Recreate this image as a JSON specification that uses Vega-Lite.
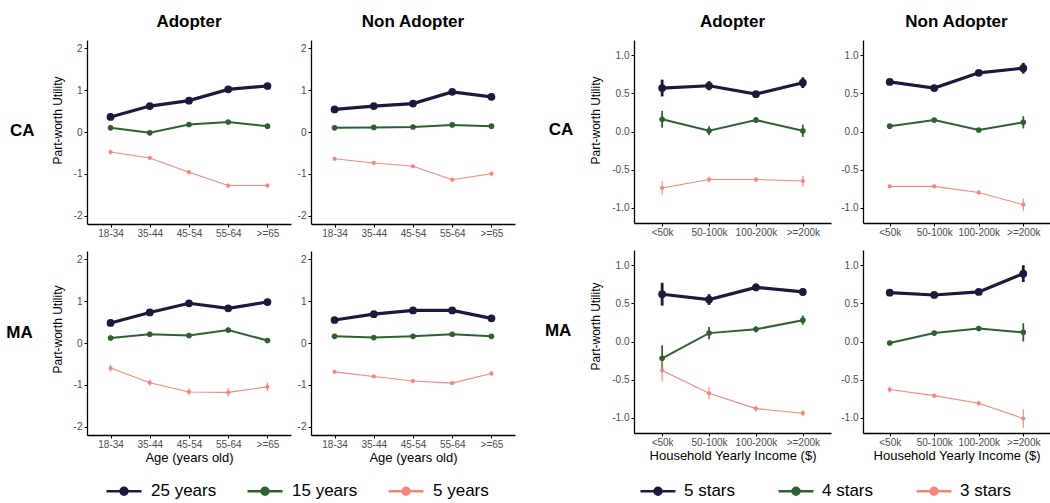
{
  "$schema": "https://vega.github.io/schema/vega-lite/v6.json",
  "padding": {"left": 6, "top": 13, "right": 0, "bottom": 0},
  "datasets": {
    "age": [
      {"state":"CA","group":"Adopter","level":"25 years","age":"18-34","u":0.36,"lo":0.31,"hi":0.41},
      {"state":"CA","group":"Adopter","level":"25 years","age":"35-44","u":0.62,"lo":0.57,"hi":0.67},
      {"state":"CA","group":"Adopter","level":"25 years","age":"45-54","u":0.75,"lo":0.70,"hi":0.80},
      {"state":"CA","group":"Adopter","level":"25 years","age":"55-64","u":1.02,"lo":0.97,"hi":1.07},
      {"state":"CA","group":"Adopter","level":"25 years","age":">=65","u":1.10,"lo":1.05,"hi":1.15},
      {"state":"CA","group":"Adopter","level":"15 years","age":"18-34","u":0.10,"lo":0.06,"hi":0.14},
      {"state":"CA","group":"Adopter","level":"15 years","age":"35-44","u":-0.02,"lo":-0.06,"hi":0.02},
      {"state":"CA","group":"Adopter","level":"15 years","age":"45-54","u":0.18,"lo":0.14,"hi":0.22},
      {"state":"CA","group":"Adopter","level":"15 years","age":"55-64","u":0.24,"lo":0.20,"hi":0.28},
      {"state":"CA","group":"Adopter","level":"15 years","age":">=65","u":0.14,"lo":0.10,"hi":0.18},
      {"state":"CA","group":"Adopter","level":"5 years","age":"18-34","u":-0.48,"lo":-0.53,"hi":-0.43},
      {"state":"CA","group":"Adopter","level":"5 years","age":"35-44","u":-0.62,"lo":-0.67,"hi":-0.57},
      {"state":"CA","group":"Adopter","level":"5 years","age":"45-54","u":-0.96,"lo":-1.01,"hi":-0.91},
      {"state":"CA","group":"Adopter","level":"5 years","age":"55-64","u":-1.28,"lo":-1.33,"hi":-1.23},
      {"state":"CA","group":"Adopter","level":"5 years","age":">=65","u":-1.28,"lo":-1.33,"hi":-1.23},
      {"state":"CA","group":"Non Adopter","level":"25 years","age":"18-34","u":0.54,"lo":0.50,"hi":0.58},
      {"state":"CA","group":"Non Adopter","level":"25 years","age":"35-44","u":0.62,"lo":0.58,"hi":0.66},
      {"state":"CA","group":"Non Adopter","level":"25 years","age":"45-54","u":0.68,"lo":0.64,"hi":0.72},
      {"state":"CA","group":"Non Adopter","level":"25 years","age":"55-64","u":0.96,"lo":0.92,"hi":1.00},
      {"state":"CA","group":"Non Adopter","level":"25 years","age":">=65","u":0.84,"lo":0.80,"hi":0.88},
      {"state":"CA","group":"Non Adopter","level":"15 years","age":"18-34","u":0.10,"lo":0.07,"hi":0.13},
      {"state":"CA","group":"Non Adopter","level":"15 years","age":"35-44","u":0.11,"lo":0.08,"hi":0.14},
      {"state":"CA","group":"Non Adopter","level":"15 years","age":"45-54","u":0.12,"lo":0.09,"hi":0.15},
      {"state":"CA","group":"Non Adopter","level":"15 years","age":"55-64","u":0.17,"lo":0.14,"hi":0.20},
      {"state":"CA","group":"Non Adopter","level":"15 years","age":">=65","u":0.14,"lo":0.11,"hi":0.17},
      {"state":"CA","group":"Non Adopter","level":"5 years","age":"18-34","u":-0.64,"lo":-0.67,"hi":-0.61},
      {"state":"CA","group":"Non Adopter","level":"5 years","age":"35-44","u":-0.74,"lo":-0.77,"hi":-0.71},
      {"state":"CA","group":"Non Adopter","level":"5 years","age":"45-54","u":-0.82,"lo":-0.85,"hi":-0.79},
      {"state":"CA","group":"Non Adopter","level":"5 years","age":"55-64","u":-1.14,"lo":-1.18,"hi":-1.10},
      {"state":"CA","group":"Non Adopter","level":"5 years","age":">=65","u":-1.00,"lo":-1.06,"hi":-0.94},
      {"state":"MA","group":"Adopter","level":"25 years","age":"18-34","u":0.48,"lo":0.42,"hi":0.54},
      {"state":"MA","group":"Adopter","level":"25 years","age":"35-44","u":0.73,"lo":0.67,"hi":0.79},
      {"state":"MA","group":"Adopter","level":"25 years","age":"45-54","u":0.95,"lo":0.89,"hi":1.01},
      {"state":"MA","group":"Adopter","level":"25 years","age":"55-64","u":0.83,"lo":0.77,"hi":0.89},
      {"state":"MA","group":"Adopter","level":"25 years","age":">=65","u":0.98,"lo":0.92,"hi":1.04},
      {"state":"MA","group":"Adopter","level":"15 years","age":"18-34","u":0.12,"lo":0.06,"hi":0.18},
      {"state":"MA","group":"Adopter","level":"15 years","age":"35-44","u":0.21,"lo":0.15,"hi":0.27},
      {"state":"MA","group":"Adopter","level":"15 years","age":"45-54","u":0.18,"lo":0.12,"hi":0.24},
      {"state":"MA","group":"Adopter","level":"15 years","age":"55-64","u":0.31,"lo":0.25,"hi":0.37},
      {"state":"MA","group":"Adopter","level":"15 years","age":">=65","u":0.06,"lo":0.00,"hi":0.12},
      {"state":"MA","group":"Adopter","level":"5 years","age":"18-34","u":-0.60,"lo":-0.68,"hi":-0.52},
      {"state":"MA","group":"Adopter","level":"5 years","age":"35-44","u":-0.95,"lo":-1.02,"hi":-0.88},
      {"state":"MA","group":"Adopter","level":"5 years","age":"45-54","u":-1.17,"lo":-1.25,"hi":-1.09},
      {"state":"MA","group":"Adopter","level":"5 years","age":"55-64","u":-1.18,"lo":-1.28,"hi":-1.08},
      {"state":"MA","group":"Adopter","level":"5 years","age":">=65","u":-1.05,"lo":-1.15,"hi":-0.95},
      {"state":"MA","group":"Non Adopter","level":"25 years","age":"18-34","u":0.55,"lo":0.51,"hi":0.59},
      {"state":"MA","group":"Non Adopter","level":"25 years","age":"35-44","u":0.69,"lo":0.65,"hi":0.73},
      {"state":"MA","group":"Non Adopter","level":"25 years","age":"45-54","u":0.78,"lo":0.74,"hi":0.82},
      {"state":"MA","group":"Non Adopter","level":"25 years","age":"55-64","u":0.78,"lo":0.74,"hi":0.82},
      {"state":"MA","group":"Non Adopter","level":"25 years","age":">=65","u":0.59,"lo":0.55,"hi":0.63},
      {"state":"MA","group":"Non Adopter","level":"15 years","age":"18-34","u":0.16,"lo":0.13,"hi":0.19},
      {"state":"MA","group":"Non Adopter","level":"15 years","age":"35-44","u":0.13,"lo":0.10,"hi":0.16},
      {"state":"MA","group":"Non Adopter","level":"15 years","age":"45-54","u":0.16,"lo":0.13,"hi":0.19},
      {"state":"MA","group":"Non Adopter","level":"15 years","age":"55-64","u":0.21,"lo":0.18,"hi":0.24},
      {"state":"MA","group":"Non Adopter","level":"15 years","age":">=65","u":0.16,"lo":0.13,"hi":0.19},
      {"state":"MA","group":"Non Adopter","level":"5 years","age":"18-34","u":-0.69,"lo":-0.72,"hi":-0.66},
      {"state":"MA","group":"Non Adopter","level":"5 years","age":"35-44","u":-0.80,"lo":-0.83,"hi":-0.77},
      {"state":"MA","group":"Non Adopter","level":"5 years","age":"45-54","u":-0.91,"lo":-0.95,"hi":-0.87},
      {"state":"MA","group":"Non Adopter","level":"5 years","age":"55-64","u":-0.96,"lo":-1.00,"hi":-0.92},
      {"state":"MA","group":"Non Adopter","level":"5 years","age":">=65","u":-0.73,"lo":-0.79,"hi":-0.67}
    ],
    "income": [
      {"state":"CA","group":"Adopter","level":"5 stars","income":"<50k","u":0.57,"lo":0.46,"hi":0.68},
      {"state":"CA","group":"Adopter","level":"5 stars","income":"50-100k","u":0.60,"lo":0.54,"hi":0.66},
      {"state":"CA","group":"Adopter","level":"5 stars","income":"100-200k","u":0.49,"lo":0.45,"hi":0.53},
      {"state":"CA","group":"Adopter","level":"5 stars","income":">=200k","u":0.64,"lo":0.57,"hi":0.71},
      {"state":"CA","group":"Adopter","level":"4 stars","income":"<50k","u":0.16,"lo":0.05,"hi":0.27},
      {"state":"CA","group":"Adopter","level":"4 stars","income":"50-100k","u":0.01,"lo":-0.05,"hi":0.07},
      {"state":"CA","group":"Adopter","level":"4 stars","income":"100-200k","u":0.15,"lo":0.11,"hi":0.19},
      {"state":"CA","group":"Adopter","level":"4 stars","income":">=200k","u":0.01,"lo":-0.07,"hi":0.09},
      {"state":"CA","group":"Adopter","level":"3 stars","income":"<50k","u":-0.74,"lo":-0.83,"hi":-0.65},
      {"state":"CA","group":"Adopter","level":"3 stars","income":"50-100k","u":-0.63,"lo":-0.67,"hi":-0.59},
      {"state":"CA","group":"Adopter","level":"3 stars","income":"100-200k","u":-0.63,"lo":-0.66,"hi":-0.60},
      {"state":"CA","group":"Adopter","level":"3 stars","income":">=200k","u":-0.65,"lo":-0.72,"hi":-0.58},
      {"state":"CA","group":"Non Adopter","level":"5 stars","income":"<50k","u":0.65,"lo":0.62,"hi":0.68},
      {"state":"CA","group":"Non Adopter","level":"5 stars","income":"50-100k","u":0.57,"lo":0.54,"hi":0.60},
      {"state":"CA","group":"Non Adopter","level":"5 stars","income":"100-200k","u":0.77,"lo":0.74,"hi":0.80},
      {"state":"CA","group":"Non Adopter","level":"5 stars","income":">=200k","u":0.83,"lo":0.76,"hi":0.90},
      {"state":"CA","group":"Non Adopter","level":"4 stars","income":"<50k","u":0.07,"lo":0.05,"hi":0.09},
      {"state":"CA","group":"Non Adopter","level":"4 stars","income":"50-100k","u":0.15,"lo":0.13,"hi":0.17},
      {"state":"CA","group":"Non Adopter","level":"4 stars","income":"100-200k","u":0.02,"lo":0.00,"hi":0.04},
      {"state":"CA","group":"Non Adopter","level":"4 stars","income":">=200k","u":0.12,"lo":0.04,"hi":0.20},
      {"state":"CA","group":"Non Adopter","level":"3 stars","income":"<50k","u":-0.72,"lo":-0.74,"hi":-0.70},
      {"state":"CA","group":"Non Adopter","level":"3 stars","income":"50-100k","u":-0.72,"lo":-0.74,"hi":-0.70},
      {"state":"CA","group":"Non Adopter","level":"3 stars","income":"100-200k","u":-0.80,"lo":-0.83,"hi":-0.77},
      {"state":"CA","group":"Non Adopter","level":"3 stars","income":">=200k","u":-0.96,"lo":-1.04,"hi":-0.88},
      {"state":"MA","group":"Adopter","level":"5 stars","income":"<50k","u":0.62,"lo":0.47,"hi":0.77},
      {"state":"MA","group":"Adopter","level":"5 stars","income":"50-100k","u":0.55,"lo":0.48,"hi":0.62},
      {"state":"MA","group":"Adopter","level":"5 stars","income":"100-200k","u":0.71,"lo":0.66,"hi":0.76},
      {"state":"MA","group":"Adopter","level":"5 stars","income":">=200k","u":0.65,"lo":0.60,"hi":0.70},
      {"state":"MA","group":"Adopter","level":"4 stars","income":"<50k","u":-0.22,"lo":-0.39,"hi":-0.05},
      {"state":"MA","group":"Adopter","level":"4 stars","income":"50-100k","u":0.11,"lo":0.03,"hi":0.19},
      {"state":"MA","group":"Adopter","level":"4 stars","income":"100-200k","u":0.16,"lo":0.12,"hi":0.20},
      {"state":"MA","group":"Adopter","level":"4 stars","income":">=200k","u":0.28,"lo":0.22,"hi":0.34},
      {"state":"MA","group":"Adopter","level":"3 stars","income":"<50k","u":-0.38,"lo":-0.52,"hi":-0.24},
      {"state":"MA","group":"Adopter","level":"3 stars","income":"50-100k","u":-0.68,"lo":-0.76,"hi":-0.60},
      {"state":"MA","group":"Adopter","level":"3 stars","income":"100-200k","u":-0.88,"lo":-0.92,"hi":-0.84},
      {"state":"MA","group":"Adopter","level":"3 stars","income":">=200k","u":-0.94,"lo":-0.98,"hi":-0.90},
      {"state":"MA","group":"Non Adopter","level":"5 stars","income":"<50k","u":0.64,"lo":0.60,"hi":0.68},
      {"state":"MA","group":"Non Adopter","level":"5 stars","income":"50-100k","u":0.61,"lo":0.58,"hi":0.64},
      {"state":"MA","group":"Non Adopter","level":"5 stars","income":"100-200k","u":0.65,"lo":0.62,"hi":0.68},
      {"state":"MA","group":"Non Adopter","level":"5 stars","income":">=200k","u":0.89,"lo":0.78,"hi":1.00},
      {"state":"MA","group":"Non Adopter","level":"4 stars","income":"<50k","u":-0.02,"lo":-0.05,"hi":0.01},
      {"state":"MA","group":"Non Adopter","level":"4 stars","income":"50-100k","u":0.11,"lo":0.08,"hi":0.14},
      {"state":"MA","group":"Non Adopter","level":"4 stars","income":"100-200k","u":0.17,"lo":0.14,"hi":0.20},
      {"state":"MA","group":"Non Adopter","level":"4 stars","income":">=200k","u":0.12,"lo":0.00,"hi":0.24},
      {"state":"MA","group":"Non Adopter","level":"3 stars","income":"<50k","u":-0.63,"lo":-0.67,"hi":-0.59},
      {"state":"MA","group":"Non Adopter","level":"3 stars","income":"50-100k","u":-0.71,"lo":-0.74,"hi":-0.68},
      {"state":"MA","group":"Non Adopter","level":"3 stars","income":"100-200k","u":-0.81,"lo":-0.84,"hi":-0.78},
      {"state":"MA","group":"Non Adopter","level":"3 stars","income":">=200k","u":-1.01,"lo":-1.13,"hi":-0.89}
    ]
  },
  "hconcat": [
    {
      "spacing": 13,
      "vconcat": [
        {
          "title": {"text": "CA", "orient": "left", "angle": 0, "align": "right", "baseline": "middle", "offset": -8, "dy": -107},
          "spacing": 6,
          "hconcat": [
            {
              "data": {"name": "age"},
              "width": 204, "height": 184,
              "title": "Adopter",
              "transform": [{"filter": "datum.state === 'CA' && datum.group === 'Adopter'"}],
              "encoding": {
                "x": {"field": "age", "type": "ordinal", "sort": ["18-34","35-44","45-54","55-64",">=65"], "scale": {"type": "point", "padding": 0.6}, "axis": {"title": null, "labelAngle": 0}},
                "color": {"field": "level", "type": "nominal", "scale": {"domain": ["25 years","15 years","5 years"], "range": ["#1a1a3d","#2f6130","#f4877c"]}, "legend": {"orient": "none", "legendX": 18, "legendY": 432, "direction": "horizontal", "title": null, "symbolType": "M-1,0L1,0M-0.2,0A0.2,0.2,0,1,0,0.2,0A0.2,0.2,0,1,0,-0.2,0", "symbolSize": 1225, "symbolStrokeWidth": 2.5, "labelFontSize": 17, "labelOffset": 8, "columnPadding": 25, "labelColor": "#000", "encode": {"symbols": {"update": {"size": {"value": 1225}}}}}}
              },
              "layer": [
                {"mark": {"type": "line"}, "encoding": {"y": {"field": "u", "type": "quantitative", "scale": {"domain": [-2.2, 2.2], "nice": false, "zero": false}, "axis": {"values": [-2,-1,0,1,2], "labelExpr": "replace(datum.label, '\u2212', '-')", "title": "Part-worth Utility", "titleY": 80}}, "strokeWidth": {"condition": [{"test": "datum.level === '25 years'", "value": 3.2}, {"test": "datum.level === '15 years'", "value": 2}], "value": 1.1}}},
                {"mark": {"type": "rule"}, "encoding": {"y": {"field": "lo", "type": "quantitative", "axis": {"values": [-2,-1,0,1,2], "labelExpr": "replace(datum.label, '\u2212', '-')", "title": "Part-worth Utility", "titleY": 80}}, "y2": {"field": "hi"}, "strokeWidth": {"condition": [{"test": "datum.level === '25 years'", "value": 2.8}, {"test": "datum.level === '15 years'", "value": 1.8}], "value": 1.1}}},
                {"mark": {"type": "point", "filled": true, "opacity": 1}, "encoding": {"y": {"field": "u", "type": "quantitative", "axis": {"values": [-2,-1,0,1,2], "labelExpr": "replace(datum.label, '\u2212', '-')", "title": "Part-worth Utility", "titleY": 80}}, "size": {"condition": [{"test": "datum.level === '25 years'", "value": 60}, {"test": "datum.level === '15 years'", "value": 32}], "value": 18}}}
              ]
            },
            {
              "data": {"name": "age"},
              "width": 204, "height": 184,
              "title": "Non Adopter",
              "transform": [{"filter": "datum.state === 'CA' && datum.group === 'Non Adopter'"}],
              "encoding": {
                "x": {"field": "age", "type": "ordinal", "sort": ["18-34","35-44","45-54","55-64",">=65"], "scale": {"type": "point", "padding": 0.6}, "axis": {"title": null, "labelAngle": 0}},
                "color": {"field": "level", "type": "nominal", "scale": {"domain": ["25 years","15 years","5 years"], "range": ["#1a1a3d","#2f6130","#f4877c"]}, "legend": {"orient": "none", "legendX": 18, "legendY": 432, "direction": "horizontal", "title": null, "symbolType": "M-1,0L1,0M-0.2,0A0.2,0.2,0,1,0,0.2,0A0.2,0.2,0,1,0,-0.2,0", "symbolSize": 1225, "symbolStrokeWidth": 2.5, "labelFontSize": 17, "labelOffset": 8, "columnPadding": 25, "labelColor": "#000", "encode": {"symbols": {"update": {"size": {"value": 1225}}}}}}
              },
              "layer": [
                {"mark": {"type": "line"}, "encoding": {"y": {"field": "u", "type": "quantitative", "scale": {"domain": [-2.2, 2.2], "nice": false, "zero": false}, "axis": {"values": [-2,-1,0,1,2], "labelExpr": "replace(datum.label, '\u2212', '-')", "title": null}}, "strokeWidth": {"condition": [{"test": "datum.level === '25 years'", "value": 3.2}, {"test": "datum.level === '15 years'", "value": 2}], "value": 1.1}}},
                {"mark": {"type": "rule"}, "encoding": {"y": {"field": "lo", "type": "quantitative", "axis": {"values": [-2,-1,0,1,2], "labelExpr": "replace(datum.label, '\u2212', '-')", "title": null}}, "y2": {"field": "hi"}, "strokeWidth": {"condition": [{"test": "datum.level === '25 years'", "value": 2.8}, {"test": "datum.level === '15 years'", "value": 1.8}], "value": 1.1}}},
                {"mark": {"type": "point", "filled": true, "opacity": 1}, "encoding": {"y": {"field": "u", "type": "quantitative", "axis": {"values": [-2,-1,0,1,2], "labelExpr": "replace(datum.label, '\u2212', '-')", "title": null}}, "size": {"condition": [{"test": "datum.level === '25 years'", "value": 60}, {"test": "datum.level === '15 years'", "value": 32}], "value": 18}}}
              ]
            }
          ]
        },
        {
          "title": {"text": "MA", "orient": "left", "angle": 0, "align": "right", "baseline": "middle", "offset": -8, "dy": -131},
          "spacing": 6,
          "hconcat": [
            {
              "data": {"name": "age"},
              "width": 204, "height": 184,
              "transform": [{"filter": "datum.state === 'MA' && datum.group === 'Adopter'"}],
              "encoding": {
                "x": {"field": "age", "type": "ordinal", "sort": ["18-34","35-44","45-54","55-64",">=65"], "scale": {"type": "point", "padding": 0.6}, "axis": {"title": "Age (years old)", "labelAngle": 0}},
                "color": {"field": "level", "type": "nominal", "scale": {"domain": ["25 years","15 years","5 years"], "range": ["#1a1a3d","#2f6130","#f4877c"]}, "legend": {"orient": "none", "legendX": 18, "legendY": 432, "direction": "horizontal", "title": null, "symbolType": "M-1,0L1,0M-0.2,0A0.2,0.2,0,1,0,0.2,0A0.2,0.2,0,1,0,-0.2,0", "symbolSize": 1225, "symbolStrokeWidth": 2.5, "labelFontSize": 17, "labelOffset": 8, "columnPadding": 25, "labelColor": "#000", "encode": {"symbols": {"update": {"size": {"value": 1225}}}}}}
              },
              "layer": [
                {"mark": {"type": "line"}, "encoding": {"y": {"field": "u", "type": "quantitative", "scale": {"domain": [-2.2, 2.2], "nice": false, "zero": false}, "axis": {"values": [-2,-1,0,1,2], "labelExpr": "replace(datum.label, '\u2212', '-')", "title": "Part-worth Utility", "titleY": 78}}, "strokeWidth": {"condition": [{"test": "datum.level === '25 years'", "value": 3.2}, {"test": "datum.level === '15 years'", "value": 2}], "value": 1.1}}},
                {"mark": {"type": "rule"}, "encoding": {"y": {"field": "lo", "type": "quantitative", "axis": {"values": [-2,-1,0,1,2], "labelExpr": "replace(datum.label, '\u2212', '-')", "title": "Part-worth Utility", "titleY": 78}}, "y2": {"field": "hi"}, "strokeWidth": {"condition": [{"test": "datum.level === '25 years'", "value": 2.8}, {"test": "datum.level === '15 years'", "value": 1.8}], "value": 1.1}}},
                {"mark": {"type": "point", "filled": true, "opacity": 1}, "encoding": {"y": {"field": "u", "type": "quantitative", "axis": {"values": [-2,-1,0,1,2], "labelExpr": "replace(datum.label, '\u2212', '-')", "title": "Part-worth Utility", "titleY": 78}}, "size": {"condition": [{"test": "datum.level === '25 years'", "value": 60}, {"test": "datum.level === '15 years'", "value": 32}], "value": 18}}}
              ]
            },
            {
              "data": {"name": "age"},
              "width": 204, "height": 184,
              "transform": [{"filter": "datum.state === 'MA' && datum.group === 'Non Adopter'"}],
              "encoding": {
                "x": {"field": "age", "type": "ordinal", "sort": ["18-34","35-44","45-54","55-64",">=65"], "scale": {"type": "point", "padding": 0.6}, "axis": {"title": "Age (years old)", "labelAngle": 0}},
                "color": {"field": "level", "type": "nominal", "scale": {"domain": ["25 years","15 years","5 years"], "range": ["#1a1a3d","#2f6130","#f4877c"]}, "legend": {"orient": "none", "legendX": 18, "legendY": 432, "direction": "horizontal", "title": null, "symbolType": "M-1,0L1,0M-0.2,0A0.2,0.2,0,1,0,0.2,0A0.2,0.2,0,1,0,-0.2,0", "symbolSize": 1225, "symbolStrokeWidth": 2.5, "labelFontSize": 17, "labelOffset": 8, "columnPadding": 25, "labelColor": "#000", "encode": {"symbols": {"update": {"size": {"value": 1225}}}}}}
              },
              "layer": [
                {"mark": {"type": "line"}, "encoding": {"y": {"field": "u", "type": "quantitative", "scale": {"domain": [-2.2, 2.2], "nice": false, "zero": false}, "axis": {"values": [-2,-1,0,1,2], "labelExpr": "replace(datum.label, '\u2212', '-')", "title": null}}, "strokeWidth": {"condition": [{"test": "datum.level === '25 years'", "value": 3.2}, {"test": "datum.level === '15 years'", "value": 2}], "value": 1.1}}},
                {"mark": {"type": "rule"}, "encoding": {"y": {"field": "lo", "type": "quantitative", "axis": {"values": [-2,-1,0,1,2], "labelExpr": "replace(datum.label, '\u2212', '-')", "title": null}}, "y2": {"field": "hi"}, "strokeWidth": {"condition": [{"test": "datum.level === '25 years'", "value": 2.8}, {"test": "datum.level === '15 years'", "value": 1.8}], "value": 1.1}}},
                {"mark": {"type": "point", "filled": true, "opacity": 1}, "encoding": {"y": {"field": "u", "type": "quantitative", "axis": {"values": [-2,-1,0,1,2], "labelExpr": "replace(datum.label, '\u2212', '-')", "title": null}}, "size": {"condition": [{"test": "datum.level === '25 years'", "value": 60}, {"test": "datum.level === '15 years'", "value": 32}], "value": 18}}}
              ]
            }
          ]
        }
      ]
    },
    {
      "spacing": 13,
      "vconcat": [
        {
          "title": {"text": "CA", "orient": "left", "angle": 0, "align": "right", "baseline": "middle", "offset": -8, "dy": -107},
          "spacing": 9,
          "hconcat": [
            {
              "data": {"name": "income"},
              "width": 197, "height": 183,
              "title": "Adopter",
              "transform": [{"filter": "datum.state === 'CA' && datum.group === 'Adopter'"}],
              "encoding": {
                "x": {"field": "income", "type": "ordinal", "sort": ["<50k","50-100k","100-200k",">=200k"], "scale": {"type": "point", "padding": 0.6}, "axis": {"title": null, "labelAngle": 0}},
                "color": {"field": "level", "type": "nominal", "scale": {"domain": ["5 stars","4 stars","3 stars"], "range": ["#1a1a3d","#2f6130","#f4877c"]}, "legend": {"orient": "none", "legendX": 5, "legendY": 432, "direction": "horizontal", "title": null, "symbolType": "M-1,0L1,0M-0.2,0A0.2,0.2,0,1,0,0.2,0A0.2,0.2,0,1,0,-0.2,0", "symbolSize": 1225, "symbolStrokeWidth": 2.5, "labelFontSize": 17, "labelOffset": 7, "columnPadding": 37, "labelColor": "#000", "encode": {"symbols": {"update": {"size": {"value": 1225}}}}}}
              },
              "layer": [
                {"mark": {"type": "line"}, "encoding": {"y": {"field": "u", "type": "quantitative", "scale": {"domain": [-1.2, 1.2], "nice": false, "zero": false}, "axis": {"values": [-1,-0.5,0,0.5,1], "format": ".1f", "labelExpr": "replace(datum.label, '\u2212', '-')", "title": "Part-worth Utility", "titleY": 80}}, "strokeWidth": {"condition": [{"test": "datum.level === '5 stars'", "value": 3.2}, {"test": "datum.level === '4 stars'", "value": 2}], "value": 1.1}}},
                {"mark": {"type": "rule"}, "encoding": {"y": {"field": "lo", "type": "quantitative", "axis": {"values": [-1,-0.5,0,0.5,1], "format": ".1f", "labelExpr": "replace(datum.label, '\u2212', '-')", "title": "Part-worth Utility", "titleY": 80}}, "y2": {"field": "hi"}, "strokeWidth": {"condition": [{"test": "datum.level === '5 stars'", "value": 2.8}, {"test": "datum.level === '4 stars'", "value": 1.8}], "value": 1.1}}},
                {"mark": {"type": "point", "filled": true, "opacity": 1}, "encoding": {"y": {"field": "u", "type": "quantitative", "axis": {"values": [-1,-0.5,0,0.5,1], "format": ".1f", "labelExpr": "replace(datum.label, '\u2212', '-')", "title": "Part-worth Utility", "titleY": 80}}, "size": {"condition": [{"test": "datum.level === '5 stars'", "value": 60}, {"test": "datum.level === '4 stars'", "value": 32}], "value": 18}}}
              ]
            },
            {
              "data": {"name": "income"},
              "width": 187, "height": 183,
              "title": "Non Adopter",
              "transform": [{"filter": "datum.state === 'CA' && datum.group === 'Non Adopter'"}],
              "encoding": {
                "x": {"field": "income", "type": "ordinal", "sort": ["<50k","50-100k","100-200k",">=200k"], "scale": {"type": "point", "padding": 0.6}, "axis": {"title": null, "labelAngle": 0}},
                "color": {"field": "level", "type": "nominal", "scale": {"domain": ["5 stars","4 stars","3 stars"], "range": ["#1a1a3d","#2f6130","#f4877c"]}, "legend": {"orient": "none", "legendX": 5, "legendY": 432, "direction": "horizontal", "title": null, "symbolType": "M-1,0L1,0M-0.2,0A0.2,0.2,0,1,0,0.2,0A0.2,0.2,0,1,0,-0.2,0", "symbolSize": 1225, "symbolStrokeWidth": 2.5, "labelFontSize": 17, "labelOffset": 7, "columnPadding": 37, "labelColor": "#000", "encode": {"symbols": {"update": {"size": {"value": 1225}}}}}}
              },
              "layer": [
                {"mark": {"type": "line"}, "encoding": {"y": {"field": "u", "type": "quantitative", "scale": {"domain": [-1.2, 1.2], "nice": false, "zero": false}, "axis": {"values": [-1,-0.5,0,0.5,1], "format": ".1f", "labelExpr": "replace(datum.label, '\u2212', '-')", "title": null}}, "strokeWidth": {"condition": [{"test": "datum.level === '5 stars'", "value": 3.2}, {"test": "datum.level === '4 stars'", "value": 2}], "value": 1.1}}},
                {"mark": {"type": "rule"}, "encoding": {"y": {"field": "lo", "type": "quantitative", "axis": {"values": [-1,-0.5,0,0.5,1], "format": ".1f", "labelExpr": "replace(datum.label, '\u2212', '-')", "title": null}}, "y2": {"field": "hi"}, "strokeWidth": {"condition": [{"test": "datum.level === '5 stars'", "value": 2.8}, {"test": "datum.level === '4 stars'", "value": 1.8}], "value": 1.1}}},
                {"mark": {"type": "point", "filled": true, "opacity": 1}, "encoding": {"y": {"field": "u", "type": "quantitative", "axis": {"values": [-1,-0.5,0,0.5,1], "format": ".1f", "labelExpr": "replace(datum.label, '\u2212', '-')", "title": null}}, "size": {"condition": [{"test": "datum.level === '5 stars'", "value": 60}, {"test": "datum.level === '4 stars'", "value": 32}], "value": 18}}}
              ]
            }
          ]
        },
        {
          "title": {"text": "MA", "orient": "left", "angle": 0, "align": "right", "baseline": "middle", "offset": -8, "dy": -131},
          "spacing": 9,
          "hconcat": [
            {
              "data": {"name": "income"},
              "width": 197, "height": 183,
              "transform": [{"filter": "datum.state === 'MA' && datum.group === 'Adopter'"}],
              "encoding": {
                "x": {"field": "income", "type": "ordinal", "sort": ["<50k","50-100k","100-200k",">=200k"], "scale": {"type": "point", "padding": 0.6}, "axis": {"title": "Household Yearly Income ($)", "labelAngle": 0}},
                "color": {"field": "level", "type": "nominal", "scale": {"domain": ["5 stars","4 stars","3 stars"], "range": ["#1a1a3d","#2f6130","#f4877c"]}, "legend": {"orient": "none", "legendX": 5, "legendY": 432, "direction": "horizontal", "title": null, "symbolType": "M-1,0L1,0M-0.2,0A0.2,0.2,0,1,0,0.2,0A0.2,0.2,0,1,0,-0.2,0", "symbolSize": 1225, "symbolStrokeWidth": 2.5, "labelFontSize": 17, "labelOffset": 7, "columnPadding": 37, "labelColor": "#000", "encode": {"symbols": {"update": {"size": {"value": 1225}}}}}}
              },
              "layer": [
                {"mark": {"type": "line"}, "encoding": {"y": {"field": "u", "type": "quantitative", "scale": {"domain": [-1.2, 1.2], "nice": false, "zero": false}, "axis": {"values": [-1,-0.5,0,0.5,1], "format": ".1f", "labelExpr": "replace(datum.label, '\u2212', '-')", "title": "Part-worth Utility", "titleY": 76}}, "strokeWidth": {"condition": [{"test": "datum.level === '5 stars'", "value": 3.2}, {"test": "datum.level === '4 stars'", "value": 2}], "value": 1.1}}},
                {"mark": {"type": "rule"}, "encoding": {"y": {"field": "lo", "type": "quantitative", "axis": {"values": [-1,-0.5,0,0.5,1], "format": ".1f", "labelExpr": "replace(datum.label, '\u2212', '-')", "title": "Part-worth Utility", "titleY": 76}}, "y2": {"field": "hi"}, "strokeWidth": {"condition": [{"test": "datum.level === '5 stars'", "value": 2.8}, {"test": "datum.level === '4 stars'", "value": 1.8}], "value": 1.1}}},
                {"mark": {"type": "point", "filled": true, "opacity": 1}, "encoding": {"y": {"field": "u", "type": "quantitative", "axis": {"values": [-1,-0.5,0,0.5,1], "format": ".1f", "labelExpr": "replace(datum.label, '\u2212', '-')", "title": "Part-worth Utility", "titleY": 76}}, "size": {"condition": [{"test": "datum.level === '5 stars'", "value": 60}, {"test": "datum.level === '4 stars'", "value": 32}], "value": 18}}}
              ]
            },
            {
              "data": {"name": "income"},
              "width": 187, "height": 183,
              "transform": [{"filter": "datum.state === 'MA' && datum.group === 'Non Adopter'"}],
              "encoding": {
                "x": {"field": "income", "type": "ordinal", "sort": ["<50k","50-100k","100-200k",">=200k"], "scale": {"type": "point", "padding": 0.6}, "axis": {"title": "Household Yearly Income ($)", "labelAngle": 0}},
                "color": {"field": "level", "type": "nominal", "scale": {"domain": ["5 stars","4 stars","3 stars"], "range": ["#1a1a3d","#2f6130","#f4877c"]}, "legend": {"orient": "none", "legendX": 5, "legendY": 432, "direction": "horizontal", "title": null, "symbolType": "M-1,0L1,0M-0.2,0A0.2,0.2,0,1,0,0.2,0A0.2,0.2,0,1,0,-0.2,0", "symbolSize": 1225, "symbolStrokeWidth": 2.5, "labelFontSize": 17, "labelOffset": 7, "columnPadding": 37, "labelColor": "#000", "encode": {"symbols": {"update": {"size": {"value": 1225}}}}}}
              },
              "layer": [
                {"mark": {"type": "line"}, "encoding": {"y": {"field": "u", "type": "quantitative", "scale": {"domain": [-1.2, 1.2], "nice": false, "zero": false}, "axis": {"values": [-1,-0.5,0,0.5,1], "format": ".1f", "labelExpr": "replace(datum.label, '\u2212', '-')", "title": null}}, "strokeWidth": {"condition": [{"test": "datum.level === '5 stars'", "value": 3.2}, {"test": "datum.level === '4 stars'", "value": 2}], "value": 1.1}}},
                {"mark": {"type": "rule"}, "encoding": {"y": {"field": "lo", "type": "quantitative", "axis": {"values": [-1,-0.5,0,0.5,1], "format": ".1f", "labelExpr": "replace(datum.label, '\u2212', '-')", "title": null}}, "y2": {"field": "hi"}, "strokeWidth": {"condition": [{"test": "datum.level === '5 stars'", "value": 2.8}, {"test": "datum.level === '4 stars'", "value": 1.8}], "value": 1.1}}},
                {"mark": {"type": "point", "filled": true, "opacity": 1}, "encoding": {"y": {"field": "u", "type": "quantitative", "axis": {"values": [-1,-0.5,0,0.5,1], "format": ".1f", "labelExpr": "replace(datum.label, '\u2212', '-')", "title": null}}, "size": {"condition": [{"test": "datum.level === '5 stars'", "value": 60}, {"test": "datum.level === '4 stars'", "value": 32}], "value": 18}}}
              ]
            }
          ]
        }
      ]
    }
  ],
  "spacing": 29,
  "resolve": {"scale": {"color": "independent"}},
  "config": {
    "font": "Liberation Sans",
    "view": {"stroke": null},
    "axis": {"grid": false, "domainColor": "#000", "domainWidth": 1.3, "tickColor": "#000", "tickSize": 3, "tickWidth": 1, "labelColor": "#4d4d4d", "labelFontSize": 10, "labelFont": "Liberation Sans", "titleFont": "Liberation Sans", "titleFontSize": 12, "titleFontWeight": "normal", "titleColor": "#000", "labelPadding": 2},
    "axisX": {"labelPadding": 1, "titlePadding": 2, "titleFontSize": 13},
    "axisY": {"titlePadding": 9},
    "title": {"fontSize": 17, "fontWeight": "bold", "font": "Liberation Sans", "color": "#000", "offset": 9},
    "legend": {"labelFont": "Liberation Sans"}
  }
}
